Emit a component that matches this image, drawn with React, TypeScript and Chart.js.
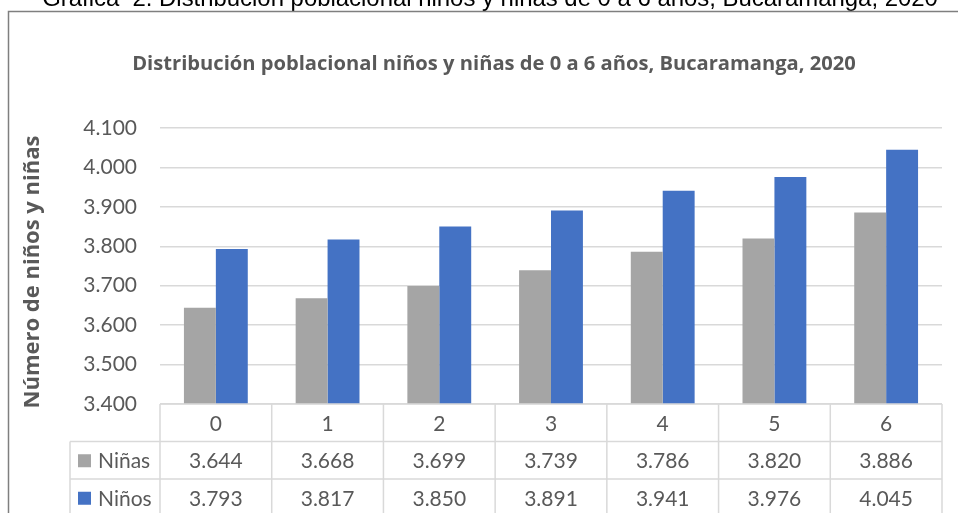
import React, { useEffect, useRef } from "react";
import { Chart, registerables } from "chart.js";

Chart.register(...registerables);

const CAPTION = "Gráfica  2. Distribución poblacional niños y niñas de 0 a 6 años, Bucaramanga, 2020";
const TITLE = "Distribución poblacional niños y niñas de 0 a 6 años, Bucaramanga, 2020";
const Y_TITLE = "Número de niños y niñas";
const CATEGORIES = ["0", "1", "2", "3", "4", "5", "6"];
const NINAS = [3644, 3668, 3699, 3739, 3786, 3820, 3886];
const NINOS = [3793, 3817, 3850, 3891, 3941, 3976, 4045];
const SERIES_LABELS = ["Niñas", "Niños"];
const SERIES_COLORS = ["#A5A5A5", "#4472C4"];
const Y_MIN = 3400;
const Y_MAX = 4100;
const Y_STEP = 100;

const TEXT_COLOR = "#595959";
const LINE_COLOR = "#D9D9D9";
const FONT = "Lato, 'Open Sans', sans-serif";
const BOLD_FONT = "'Open Sans', sans-serif";
const FONT_SIZE = 21;

function fmt(v: number): string {
  const s = Math.round(v).toString();
  return s.length > 3 ? s.slice(0, -3) + "." + s.slice(-3) : s;
}

function fitFont(ctx: CanvasRenderingContext2D, text: string, weight: string, family: string, targetW: number) {
  ctx.font = `${weight} 20px ${family}`;
  const w = ctx.measureText(text).width;
  const size = (20 * targetW) / w;
  ctx.font = `${weight} ${size}px ${family}`;
}

const decorPlugin = {
  id: "decor",
  beforeDraw(chart: any) {
    const ctx: CanvasRenderingContext2D = chart.ctx;
    ctx.save();
    ctx.fillStyle = "#ffffff";
    ctx.fillRect(0, 0, chart.width, chart.height);

    // outer caption (cut off at top)
    ctx.fillStyle = "#000000";
    fitFont(ctx, CAPTION, "normal", "'Liberation Sans', Arial, sans-serif", 896);
    ctx.textAlign = "center";
    ctx.textBaseline = "alphabetic";
    ctx.fillText(CAPTION, 490, 6);

    // chart frame
    ctx.strokeStyle = "#7F7F7F";
    ctx.lineWidth = 1.5;
    ctx.beginPath();
    ctx.moveTo(8.5, chart.height + 2);
    ctx.lineTo(8.5, 11.5);
    ctx.lineTo(chart.width + 2, 11.5);
    ctx.stroke();

    // chart title
    ctx.fillStyle = TEXT_COLOR;
    fitFont(ctx, TITLE, "bold", BOLD_FONT, 724);
    ctx.textAlign = "center";
    ctx.textBaseline = "middle";
    ctx.fillText(TITLE, 494, 64);

    // y axis title
    ctx.save();
    ctx.translate(33, 272);
    ctx.rotate(-Math.PI / 2);
    fitFont(ctx, Y_TITLE, "bold", BOLD_FONT, 273);
    ctx.textAlign = "center";
    ctx.textBaseline = "middle";
    ctx.fillText(Y_TITLE, 0, 0);
    ctx.restore();
    ctx.restore();
  },
  afterDraw(chart: any) {
    const ctx: CanvasRenderingContext2D = chart.ctx;
    const area = chart.chartArea;
    const xs = chart.scales.x;
    const n = CATEGORIES.length;
    const colW = (area.right - area.left) / n;
    const top = area.bottom;
    const rowH = 37.5;
    const legendLeft = 70;
    const bottom = top + rowH * 3;
    ctx.save();
    ctx.strokeStyle = LINE_COLOR;
    ctx.lineWidth = 1.5;
    ctx.beginPath();
    ctx.moveTo(area.left, top);
    ctx.lineTo(area.right, top);
    for (let r = 1; r < 3; r++) {
      ctx.moveTo(legendLeft, top + rowH * r);
      ctx.lineTo(area.right, top + rowH * r);
    }
    for (let c = 0; c <= n; c++) {
      const x = area.left + colW * c;
      ctx.moveTo(x, top);
      ctx.lineTo(x, bottom);
    }
    ctx.moveTo(legendLeft, top + rowH);
    ctx.lineTo(legendLeft, bottom);
    ctx.stroke();

    ctx.fillStyle = TEXT_COLOR;
    ctx.font = `normal ${FONT_SIZE}px ${FONT}`;
    ctx.textAlign = "center";
    ctx.textBaseline = "middle";
    CATEGORIES.forEach((c, i) => {
      const x = xs.getPixelForValue(i);
      ctx.fillText(c, x, top + rowH / 2 + 1);
    });
    const series = [NINAS, NINOS];
    series.forEach((vals, r) => {
      const y = top + rowH * (r + 1) + rowH / 2 + 1;
      vals.forEach((v, i) => {
        ctx.fillText(fmt(v), xs.getPixelForValue(i), y);
      });
      ctx.fillStyle = SERIES_COLORS[r];
      ctx.fillRect(78, y - 7, 13, 13);
      ctx.fillStyle = TEXT_COLOR;
      ctx.textAlign = "left";
      ctx.fillText(SERIES_LABELS[r], 98, y);
      ctx.textAlign = "center";
    });
    ctx.restore();
  },
};

export default function App() {
  const ref = useRef<HTMLCanvasElement>(null);
  useEffect(() => {
    if (!ref.current) return;
    const chart = new Chart(ref.current, {
      type: "bar",
      data: {
        labels: CATEGORIES,
        datasets: [
          {
            label: SERIES_LABELS[0],
            data: NINAS,
            backgroundColor: SERIES_COLORS[0],
            categoryPercentage: 2 / 3.5,
            barPercentage: 1,
          },
          {
            label: SERIES_LABELS[1],
            data: NINOS,
            backgroundColor: SERIES_COLORS[1],
            categoryPercentage: 2 / 3.5,
            barPercentage: 1,
          },
        ],
      },
      options: {
        responsive: false,
        animation: false,
        events: [],
        layout: { padding: { left: 0, right: 16, top: 128, bottom: 109 } },
        plugins: {
          legend: { display: false },
          tooltip: { enabled: false },
          title: { display: false },
        },
        scales: {
          x: { display: false },
          y: {
            min: Y_MIN,
            max: Y_MAX,
            afterFit: (scale: any) => {
              scale.width = 160;
            },
            border: { display: false },
            grid: { color: LINE_COLOR, lineWidth: 1.5, drawTicks: false },
            ticks: {
              stepSize: Y_STEP,
              padding: 23,
              color: TEXT_COLOR,
              font: { family: FONT, size: FONT_SIZE },
              callback: (v: any) => fmt(Number(v)),
            },
          },
        },
      },
      plugins: [decorPlugin],
    });
    return () => chart.destroy();
  }, []);
  return (
    <div style={{ position: "fixed", left: 0, top: 0, width: 958, height: 513, background: "#fff" }}>
      <canvas ref={ref} width={958} height={513} style={{ display: "block" }} />
    </div>
  );
}
